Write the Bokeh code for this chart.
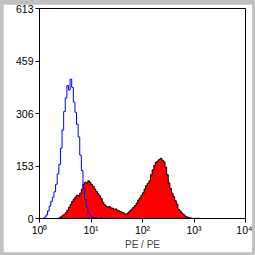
import numpy as np
from bokeh.plotting import figure
from bokeh.layouts import column
from bokeh.models import FixedTicker, ColumnDataSource
from bokeh.embed import file_html
from bokeh.resources import INLINE

# ---- data (histogram counts, 32 channels per decade, starting at 10^0) ----
channels_per_decade = 32
blue_counts = [0, 0, 1, 4, 10, 22, 36, 50, 62, 78, 100, 130, 158, 205, 258, 312,
               352, 388, 375, 407, 383, 340, 310, 275, 238, 185, 140, 90, 55, 33,
               17, 9, 5, 3, 1, 2, 0, 1, 2, 0, 1, 0, 1, 1, 0, 1, 0, 0]
red_counts = [0] * 12 + [
    2, 5, 9, 12, 17, 24, 33, 41, 50, 57, 63, 68, 66, 74, 86, 100,
    106, 103, 110, 105, 99, 94, 86, 79, 72, 66, 58, 47, 40, 36, 33, 35,
    31, 30, 27, 28, 24, 22, 20, 18, 16, 12, 14, 19, 23, 28, 33, 38,
    45, 54, 60, 68, 75, 86, 96, 103, 110, 128, 142, 155, 164, 168, 172, 176,
    170, 165, 150, 128, 104, 88, 74, 64, 52, 42, 27, 22, 16, 12, 8, 5,
    3, 2, 1, 0, 1, 0, 1, 0]
y_ticks = [0, 153, 306, 459, 613]
x_ticks = [1, 10, 100, 1000, 10000]
x_tick_labels = ["10\u2070", "10\u00b9", "10\u00b2", "10\u00b3", "10\u2074"]
x_label = "PE / PE"


def edges(counts):
    n = len(counts)
    e = 10 ** (np.arange(n + 1) / channels_per_decade)
    return e, list(counts) + [counts[-1]]


bx, by = edges(blue_counts)
rx, ry = edges(red_counts)

FONT = "Liberation Sans"

p = figure(frame_width=206, frame_height=212, x_axis_type="log",
           x_range=(1, 10000), y_range=(0, 613),
           output_backend="svg", toolbar_location=None,
           min_border_left=36, min_border_right=7,
           min_border_top=4, min_border_bottom=32)
p.margin = (4, 3, 3, 3)
p.background_fill_color = "white"
p.border_fill_color = "white"
p.outline_line_color = "black"
p.outline_line_alpha = 1
p.outline_line_width = 1
p.xgrid.visible = False
p.ygrid.visible = False

red_src = ColumnDataSource(dict(x=rx, y=ry, z=[0] * len(rx)))
p.varea_step(x="x", y1="z", y2="y", step_mode="after", source=red_src,
             fill_color="#ff0000", fill_alpha=1)
p.step(x="x", y="y", mode="after", source=red_src, line_color="black", line_width=1)
p.step(x=bx, y=by, mode="after", line_color="#0000ff", line_width=1)

for ax in (p.xaxis[0], p.yaxis[0]):
    ax.axis_line_color = "black"
    ax.major_tick_line_color = "black"
    ax.major_tick_in = 0
    ax.major_tick_out = 4
    ax.minor_tick_line_color = None
    ax.major_label_text_font = FONT
    ax.major_label_text_font_size = "10.5px"
    ax.major_label_text_color = "black"
    ax.major_label_standoff = 2

p.xaxis.major_label_standoff = 1
p.yaxis.ticker = FixedTicker(ticks=y_ticks)
p.xaxis.ticker = FixedTicker(ticks=x_ticks)
p.xaxis.major_label_overrides = {t: s for t, s in zip(x_ticks, x_tick_labels)}
p.xaxis.axis_label = x_label
p.xaxis.axis_label_text_font = FONT
p.xaxis.axis_label_text_font_size = "10px"
p.xaxis.axis_label_text_font_style = "normal"
p.xaxis.axis_label_standoff = 0

layout = column(p, width=255, height=255,
                styles={"background-color": "#c0c0c0"})

open("out.html", "w").write(file_html(layout, INLINE))
